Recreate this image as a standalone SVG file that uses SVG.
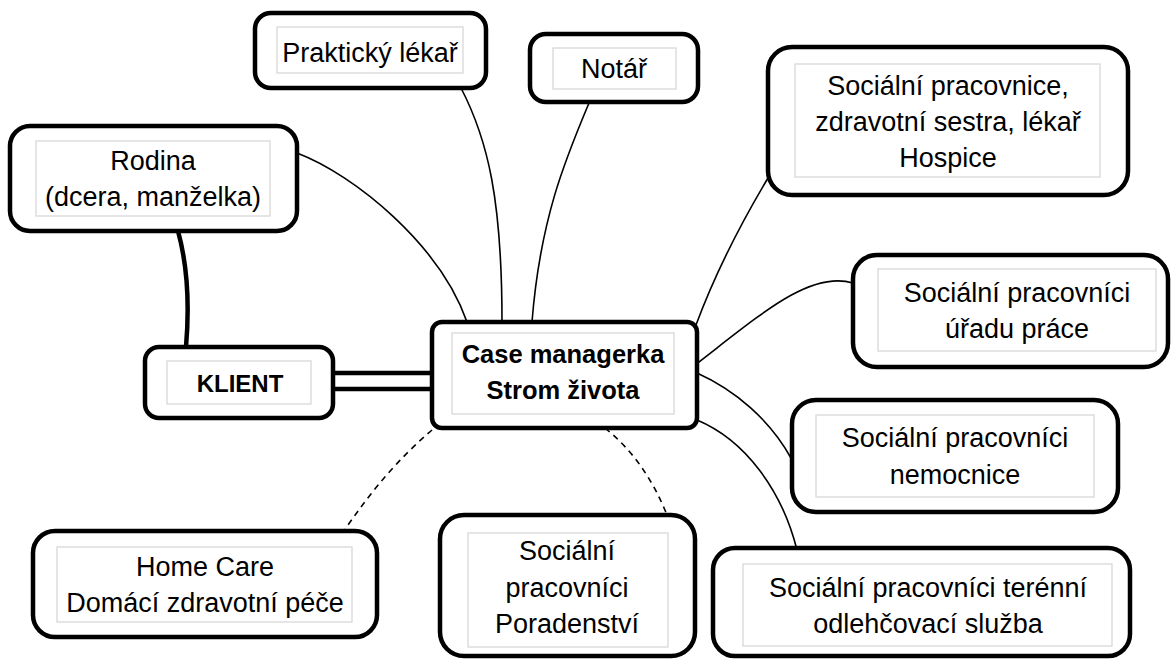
<svg xmlns="http://www.w3.org/2000/svg" width="1171" height="659" viewBox="0 0 1171 659">
<style>
.o{fill:#fff;stroke:#000;stroke-width:4.5}
.i{fill:#fff;stroke:#d4d4d4;stroke-width:1.2}
.t{font-family:"Liberation Sans",Arial,sans-serif;font-size:27px;fill:#000;text-anchor:middle}
.b{font-family:"Liberation Sans",Arial,sans-serif;font-size:25.5px;font-weight:bold;fill:#000;text-anchor:middle}
.c{fill:none;stroke:#000;stroke-width:1.6}
.d{fill:none;stroke:#000;stroke-width:1.6;stroke-dasharray:6 5}
.k{fill:none;stroke:#000;stroke-width:4.5}
</style>
<rect width="1171" height="659" fill="#fff"/>
<g id="connectors">
<path class="c" d="M297,153 C355,175 440,245 467,322"/>
<path class="c" d="M461,88 C488,140 502,200 502,322"/>
<path class="c" d="M589,103 C565,160 540,220 532,322"/>
<path class="c" d="M696,325 Q722,255 768,178"/>
<path class="c" d="M695,365 C760,315 810,270 853,283"/>
<path class="c" d="M697,373 C735,390 770,420 791,458"/>
<path class="c" d="M697,420 C745,440 782,490 797,550"/>
<path class="d" d="M432,430 Q385,470 344,531"/>
<path class="d" d="M605,428 Q645,460 667,515"/>
<path class="k" d="M178,231 C186,260 190,300 186,347"/>
<path class="k" d="M333,373 L432,373"/>
<path class="k" d="M333,389 L432,389"/>
</g>
<g id="prakticky">
<rect class="o" x="255" y="13" width="231" height="75" rx="16"/>
<rect class="i" x="277" y="27" width="186" height="46"/>
<text class="t" x="370" y="62">Praktický lékař</text>
</g>
<g id="notar">
<rect class="o" x="530" y="34" width="168" height="68" rx="16"/>
<rect class="i" x="553" y="48" width="123" height="41"/>
<text class="t" x="614" y="78">Notář</text>
</g>
<g id="hospic">
<rect class="o" x="768" y="47" width="360" height="148" rx="24"/>
<rect class="i" x="795" y="64" width="305" height="113"/>
<text class="t" x="948" y="95">Sociální pracovnice,</text>
<text class="t" x="948" y="131">zdravotní sestra, lékař</text>
<text class="t" x="948" y="167">Hospice</text>
</g>
<g id="rodina">
<rect class="o" x="10" y="126" width="287" height="105" rx="20"/>
<rect class="i" x="36" y="141" width="234" height="75"/>
<text class="t" x="153" y="170">Rodina</text>
<text class="t" x="153" y="206">(dcera, manželka)</text>
</g>
<g id="klient">
<rect class="o" x="145" y="347" width="188" height="71" rx="14"/>
<rect class="i" x="167" y="361" width="144" height="43"/>
<text class="b" x="240" y="392" style="font-size:24px">KLIENT</text>
</g>
<g id="case">
<rect class="o" x="432" y="322" width="265" height="106" rx="10"/>
<rect class="i" x="452" y="333" width="222" height="81"/>
<text class="b" x="563" y="363">Case managerka</text>
<text class="b" x="563" y="399">Strom života</text>
</g>
<g id="urad">
<rect class="o" x="853" y="255" width="315" height="112" rx="24"/>
<rect class="i" x="878" y="269" width="278" height="82"/>
<text class="t" x="1017" y="302">Sociální pracovníci</text>
<text class="t" x="1017" y="338">úřadu práce</text>
</g>
<g id="nemocnice">
<rect class="o" x="792" y="400" width="326" height="112" rx="24"/>
<rect class="i" x="816" y="415" width="278" height="82"/>
<text class="t" x="955" y="447">Sociální pracovníci</text>
<text class="t" x="955" y="484">nemocnice</text>
</g>
<g id="terenni">
<rect class="o" x="713" y="548" width="417" height="108" rx="22"/>
<rect class="i" x="743" y="564" width="369" height="82"/>
<text class="t" x="928" y="597">Sociální pracovníci terénní</text>
<text class="t" x="928" y="633">odlehčovací služba</text>
</g>
<g id="poradenstvi">
<rect class="o" x="440" y="515" width="255" height="141" rx="24"/>
<rect class="i" x="468" y="533" width="200" height="114"/>
<text class="t" x="567" y="560">Sociální</text>
<text class="t" x="567" y="597">pracovníci</text>
<text class="t" x="567" y="633">Poradenství</text>
</g>
<g id="homecare">
<rect class="o" x="33" y="531" width="344" height="106" rx="22"/>
<rect class="i" x="57" y="547" width="295" height="75"/>
<text class="t" x="205" y="576">Home Care</text>
<text class="t" x="205" y="612">Domácí zdravotní péče</text>
</g>
</svg>
